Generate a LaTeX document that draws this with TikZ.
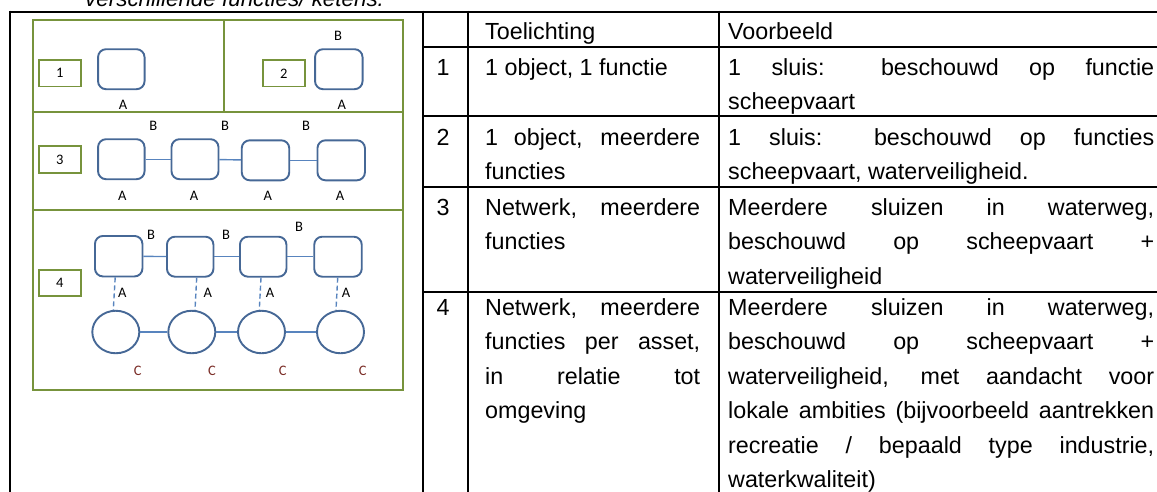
\documentclass[tikz,border=0pt]{standalone}
\usepackage{fontspec}
\setmainfont{Liberation Sans}
\newfontfamily\lblfamily{Carlito}
\usetikzlibrary{shapes.geometric}

\definecolor{frameGreen}{RGB}{119,147,60}
\definecolor{objBlue}{RGB}{70,104,150}
\definecolor{linkBlue}{RGB}{88,132,190}
\definecolor{envRed}{RGB}{122,44,38}

\newcommand{\tabfont}{\fontsize{23.3}{28}\selectfont}
\newcommand{\lblfont}{\lblfamily\fontsize{14.5}{17}\selectfont}
% a justified table line of given width
\newcommand{\jl}[2]{\makebox[#1][s]{#2}}

\tikzset{
  rule/.style={line width=2.6pt, black},
  grn/.style={draw=frameGreen, line width=2pt},
  numbox/.style={draw=frameGreen, line width=1.7pt, minimum width=42pt,
    minimum height=26.5pt, inner sep=0pt, font=\lblfont},
  obj/.style={draw=objBlue, line width=1.9pt, rounded corners=8pt,
    minimum width=46.5pt, minimum height=40pt, inner sep=0pt},
  env/.style={ellipse, draw=objBlue, line width=1.9pt,
    minimum width=47pt, minimum height=42.5pt, inner sep=0pt},
  link/.style={draw=linkBlue, line width=1.4pt},
  dlink/.style={link, dash pattern=on 5pt off 3pt},
  lbl/.style={font=\lblfont, inner sep=0pt},
  clbl/.style={lbl, text=envRed},
  cell/.style={anchor=base west, inner sep=0pt, font=\tabfont},
  num/.style={anchor=base, inner sep=0pt, font=\tabfont},
}

\begin{document}
\begin{tikzpicture}[x=1pt, y=-1pt]
\useasboundingbox (0,0) rectangle (1157,491);
\clip (0,0) rectangle (1157,491);

% caption above the table
\node[anchor=base west, inner sep=0pt, font=\fontsize{22.4}{26}\selectfont\itshape]
  (caption) at (85,6.5) {verschillende functies/ ketens.};

% ---------- table rules ----------
\draw[rule] (10,12) -- (1160,12);
\draw[rule] (423,47) -- (1160,47);
\draw[rule] (423,116) -- (1160,116);
\draw[rule] (423,187) -- (1160,187);
\draw[rule] (423,292) -- (1160,292);
\draw[rule] (10,10.7) -- (10,495);
\draw[rule] (423,10.7) -- (423,495);
\draw[rule] (468,10.7) -- (468,495);
\draw[rule] (719,10.7) -- (719,495);

% ---------- table text ----------
\node[cell] (hT) at (485,39.5) {Toelichting};
\node[cell] (hV) at (728,39.5) {Voorbeeld};

\node[num] (r1) at (443,75) {1};
\node[cell] (t1a) at (485,75) {1 object, 1 functie};
\node[cell] (v1a) at (728,75) {\jl{426pt}{1 sluis: beschouwd op functie}};
\node[cell] (v1b) at (728,109.5) {scheepvaart};

\node[num] (r2) at (443,145) {2};
\node[cell] (t2a) at (485,145) {\jl{215pt}{1 object, meerdere}};
\node[cell] (t2b) at (485,179.5) {functies};
\node[cell] (v2a) at (728,145) {\jl{426pt}{1 sluis: beschouwd op functies}};
\node[cell] (v2b) at (728,179.5) {scheepvaart, waterveiligheid.};

\node[num] (r3) at (443,215) {3};
\node[cell] (t3a) at (485,215) {\jl{215pt}{Netwerk, meerdere}};
\node[cell] (t3b) at (485,249.5) {functies};
\node[cell] (v3a) at (728,215) {\jl{426pt}{Meerdere sluizen in waterweg,}};
\node[cell] (v3b) at (728,249.5) {\jl{426pt}{beschouwd op scheepvaart +}};
\node[cell] (v3c) at (728,284) {waterveiligheid};

\node[num] (r4) at (443,315) {4};
\node[cell] (t4a) at (485,315) {\jl{215pt}{Netwerk, meerdere}};
\node[cell] (t4b) at (485,349.5) {\jl{215pt}{functies per asset,}};
\node[cell] (t4c) at (485,384) {\jl{215pt}{in relatie tot}};
\node[cell] (t4d) at (485,418.5) {omgeving};
\node[cell] (v4a) at (728,315) {\jl{426pt}{Meerdere sluizen in waterweg,}};
\node[cell] (v4b) at (728,349.5) {\jl{426pt}{beschouwd op scheepvaart +}};
\node[cell] (v4c) at (728,384) {\jl{426pt}{waterveiligheid, met aandacht voor}};
\node[cell] (v4d) at (728,418.5) {\jl{426pt}{lokale ambities (bijvoorbeeld aantrekken}};
\node[cell] (v4e) at (728,453) {\jl{426pt}{recreatie / bepaald type industrie,}};
\node[cell] (v4f) at (728,487.5) {waterkwaliteit)};

% ---------- scheme: green frame ----------
\draw[grn] (33.3,20) rectangle (403.3,390);
\draw[grn] (33.3,112) -- (403.3,112);
\draw[grn] (33.3,210) -- (403.3,210);
\draw[grn] (224,20) -- (224,112);

% case 1: one object, one function
\node[numbox] (n1) at (59.7,73.3) {1};
\node[obj] (o1) at (121.3,69.2) {};
\node[lbl] (o1A) at (123,104.5) {A};

% case 2: one object, several functions
\node[numbox] (n2) at (283.8,73.3) {2};
\node[obj, minimum width=47.5pt] (o2) at (338.8,69.2) {};
\node[lbl] (o2B) at (338,36) {B};
\node[lbl] (o2A) at (341.7,104.5) {A};

% case 3: network, several functions
\node[numbox] (n3) at (59.7,159.5) {3};
\node[obj] (p1) at (121.3,159.2) {};
\node[obj, minimum width=47pt] (p2) at (195,159.2) {};
\node[obj, minimum width=47.5pt] (p3) at (265.5,160.3) {};
\node[obj, minimum width=47.5pt] (p4) at (341.2,160.3) {};
\draw[link] (p1) -- (p2);
\draw[link] (p2) -- (p3);
\draw[link] (p3) -- (p4);
\node[lbl] (p1B) at (153.3,126) {B};
\node[lbl] (p2B) at (225,126) {B};
\node[lbl] (p3B) at (306,126) {B};
\node[lbl] (p1A) at (122.3,195.7) {A};
\node[lbl] (p2A) at (194,195.7) {A};
\node[lbl] (p3A) at (267.7,195.7) {A};
\node[lbl] (p4A) at (340,195.7) {A};

% case 4: network in relation to its surroundings
\node[numbox] (n4) at (59.7,283) {4};
\node[obj, minimum width=47.5pt, minimum height=40.5pt] (q1) at (118.7,256.2) {};
\node[obj] (q2) at (190.2,256.7) {};
\node[obj] (q3) at (263.2,256.7) {};
\node[obj, minimum width=47.5pt] (q4) at (338,256.7) {};
\draw[link] (q1) -- (q2);
\draw[link] (q2) -- (q3);
\draw[link] (q3) -- (q4);
\node[lbl] (q1B) at (151,235) {B};
\node[lbl] (q2B) at (226,235) {B};
\node[lbl] (q3B) at (299,226.7) {B};

\node[env] (e1) at (115.8,332) {};
\node[env] (e2) at (191.8,332) {};
\node[env] (e3) at (261.5,332) {};
\node[env] (e4) at (340.5,332) {};
\draw[link] (e1) -- (e2);
\draw[link] (e2) -- (e3);
\draw[link] (e3) -- (e4);

\draw[dlink] ([xshift=-3.5pt]q1.south) -- ([xshift=-2.5pt]e1.north);
\draw[dlink] ([xshift=6.5pt]q2.south) -- ([xshift=3.2pt]e2.north);
\draw[dlink] ([xshift=-2.2pt]q3.south) -- ([xshift=-2.2pt]e3.north);
\draw[dlink] ([xshift=-0.3pt]q4.south) -- ([xshift=-4.5pt]e4.north);

\node[lbl] (q1A) at (122.3,292.7) {A};
\node[lbl] (q2A) at (207.7,292.7) {A};
\node[lbl] (q3A) at (270,292.7) {A};
\node[lbl] (q4A) at (346,292.7) {A};
\node[clbl] (e1C) at (137.7,370.7) {C};
\node[clbl] (e2C) at (212,370.7) {C};
\node[clbl] (e3C) at (282.7,370.7) {C};
\node[clbl] (e4C) at (362.7,370.7) {C};
\end{tikzpicture}
\end{document}
